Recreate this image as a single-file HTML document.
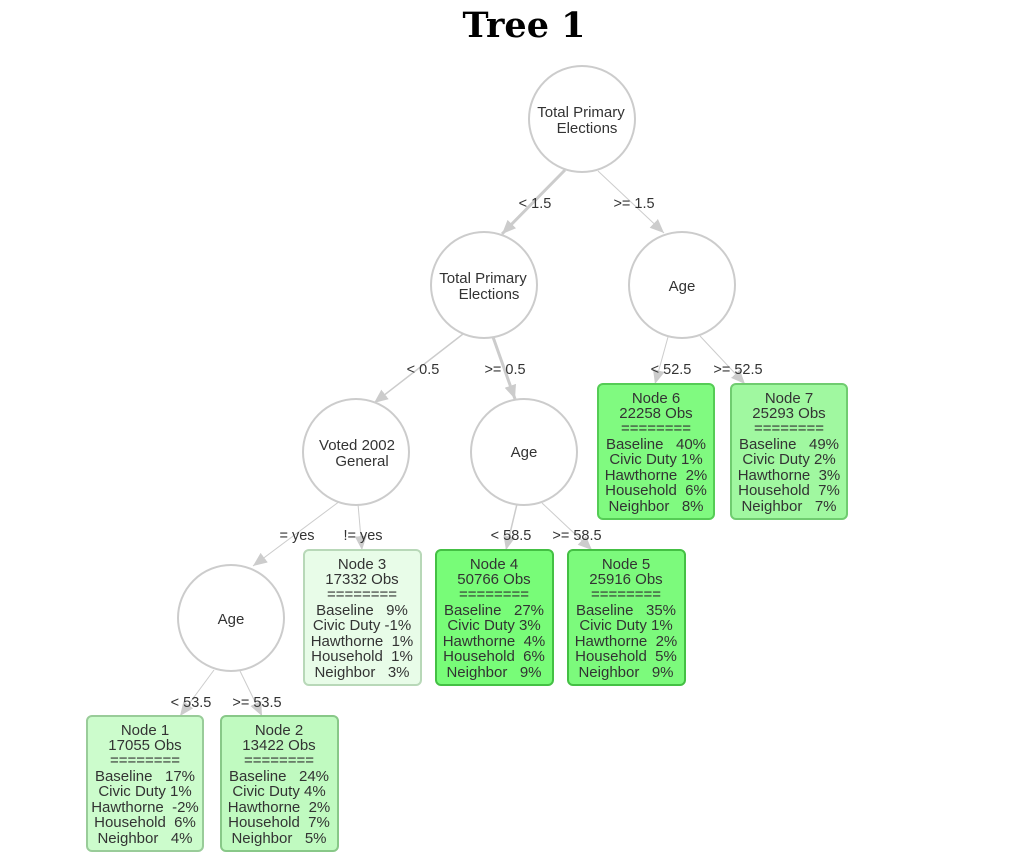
<!DOCTYPE html>
<html><head><meta charset="utf-8"><style>
body{margin:0;background:#fff;width:1023px;height:858px;overflow:hidden}
svg text{font-family:"Liberation Sans",sans-serif;fill:#333;white-space:pre}
</style></head><body>
<svg width="1023" height="858" viewBox="0 0 1023 858" xmlns="http://www.w3.org/2000/svg">
<defs><marker id="a" markerWidth="16" markerHeight="14" refX="14" refY="6" orient="auto" markerUnits="userSpaceOnUse"><path d="M0,0 L14,6 L0,12 z" fill="#ccc"/></marker></defs>
<text x="524" y="37" text-anchor="middle" style="font-family:'DejaVu Serif',serif;font-weight:bold;font-size:35px;fill:#000">Tree 1</text>
<g stroke="#ccc" fill="none" marker-end="url(#a)">
<line x1="565" y1="170" x2="502" y2="234" stroke-width="3"/>
<line x1="598" y1="171" x2="664" y2="233" stroke-width="1"/>
<line x1="463" y1="334" x2="374" y2="403" stroke-width="1.5"/>
<line x1="493" y1="337" x2="515" y2="399" stroke-width="3"/>
<line x1="340" y1="501" x2="253" y2="566" stroke-width="1"/>
<line x1="358" y1="504" x2="362" y2="550" stroke-width="1"/>
<line x1="668" y1="337" x2="655" y2="384" stroke-width="1"/>
<line x1="700" y1="336" x2="745" y2="384" stroke-width="1"/>
<line x1="517" y1="504" x2="506" y2="550" stroke-width="1.5"/>
<line x1="542" y1="503" x2="592" y2="550" stroke-width="1"/>
<line x1="214" y1="670" x2="180" y2="716" stroke-width="1"/>
<line x1="240" y1="671" x2="262" y2="716" stroke-width="1"/>
</g>
<g font-size="14.5" text-anchor="middle">
<text x="535" y="208">&lt; 1.5</text><text x="634" y="208">&gt;= 1.5</text>
<text x="423" y="374">&lt; 0.5</text><text x="505" y="374">&gt;= 0.5</text>
<text x="671" y="374">&lt; 52.5</text><text x="738" y="374">&gt;= 52.5</text>
<text x="297" y="540">= yes</text><text x="363" y="540">!= yes</text>
<text x="511" y="540">&lt; 58.5</text><text x="577" y="540">&gt;= 58.5</text>
<text x="191" y="707">&lt; 53.5</text><text x="257" y="707">&gt;= 53.5</text>
</g>
<g fill="#fff" stroke="#ccc" stroke-width="2">
<circle cx="582" cy="119" r="53"/><circle cx="484" cy="285" r="53"/><circle cx="682" cy="285" r="53"/>
<circle cx="356" cy="452" r="53"/><circle cx="524" cy="452" r="53"/><circle cx="231" cy="618" r="53"/>
</g>
<g font-size="15" text-anchor="middle">
<text x="581" y="117">Total Primary</text><text x="587" y="133">Elections</text>
<text x="483" y="283">Total Primary</text><text x="489" y="299">Elections</text>
<text x="682" y="291">Age</text>
<text x="357" y="450">Voted 2002</text><text x="362" y="466">General</text>
<text x="524" y="457">Age</text><text x="231" y="624">Age</text>
</g>
<g stroke-width="2">
<rect x="598" y="384" width="116" height="135" rx="5" fill="#80fa80" stroke="#55cc55"/>
<rect x="731" y="384" width="116" height="135" rx="5" fill="#a0f8a0" stroke="#70cc70"/>
<rect x="304" y="550" width="117" height="135" rx="5" fill="#e8fce8" stroke="#b8d8b8"/>
<rect x="436" y="550" width="117" height="135" rx="5" fill="#78fc78" stroke="#44c044"/>
<rect x="568" y="550" width="117" height="135" rx="5" fill="#7cfa7c" stroke="#44c044"/>
<rect x="87" y="716" width="116" height="135" rx="5" fill="#ccfccc" stroke="#99cc99"/>
<rect x="221" y="716" width="117" height="135" rx="5" fill="#c0fac0" stroke="#88c888"/>
</g>
<g font-size="15" text-anchor="middle">
<text x="656" y="403">Node 6</text><text x="656" y="418">22258 Obs</text><text x="656" y="433">========</text><text x="656" y="449">Baseline   40%</text><text x="656" y="464">Civic Duty 1%</text><text x="656" y="480">Hawthorne  2%</text><text x="656" y="495">Household  6%</text><text x="656" y="511">Neighbor   8%</text>
<text x="789" y="403">Node 7</text><text x="789" y="418">25293 Obs</text><text x="789" y="433">========</text><text x="789" y="449">Baseline   49%</text><text x="789" y="464">Civic Duty 2%</text><text x="789" y="480">Hawthorne  3%</text><text x="789" y="495">Household  7%</text><text x="789" y="511">Neighbor   7%</text>
<text x="362" y="569">Node 3</text><text x="362" y="584">17332 Obs</text><text x="362" y="599">========</text><text x="362" y="615">Baseline   9%</text><text x="362" y="630">Civic Duty -1%</text><text x="362" y="646">Hawthorne  1%</text><text x="362" y="661">Household  1%</text><text x="362" y="677">Neighbor   3%</text>
<text x="494" y="569">Node 4</text><text x="494" y="584">50766 Obs</text><text x="494" y="599">========</text><text x="494" y="615">Baseline   27%</text><text x="494" y="630">Civic Duty 3%</text><text x="494" y="646">Hawthorne  4%</text><text x="494" y="661">Household  6%</text><text x="494" y="677">Neighbor   9%</text>
<text x="626" y="569">Node 5</text><text x="626" y="584">25916 Obs</text><text x="626" y="599">========</text><text x="626" y="615">Baseline   35%</text><text x="626" y="630">Civic Duty 1%</text><text x="626" y="646">Hawthorne  2%</text><text x="626" y="661">Household  5%</text><text x="626" y="677">Neighbor   9%</text>
<text x="145" y="735">Node 1</text><text x="145" y="750">17055 Obs</text><text x="145" y="765">========</text><text x="145" y="781">Baseline   17%</text><text x="145" y="796">Civic Duty 1%</text><text x="145" y="812">Hawthorne  -2%</text><text x="145" y="827">Household  6%</text><text x="145" y="843">Neighbor   4%</text>
<text x="279" y="735">Node 2</text><text x="279" y="750">13422 Obs</text><text x="279" y="765">========</text><text x="279" y="781">Baseline   24%</text><text x="279" y="796">Civic Duty 4%</text><text x="279" y="812">Hawthorne  2%</text><text x="279" y="827">Household  7%</text><text x="279" y="843">Neighbor   5%</text>
</g>
</svg>
</body></html>
